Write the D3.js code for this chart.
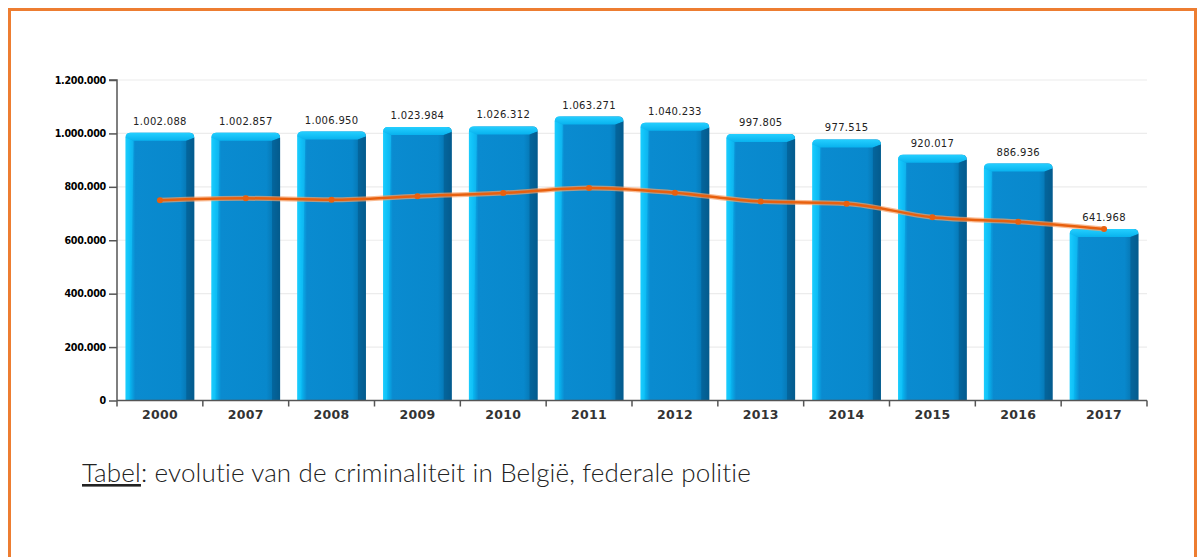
<!DOCTYPE html>
<html><head><meta charset="utf-8">
<script src="https://cdn.jsdelivr.net/npm/d3@7"></script>
<style>
html,body{margin:0;padding:0;background:#fff;}
svg{display:block;}
</style></head>
<body>
<svg id="chart" width="1198" height="557"></svg>
<script>
const years = ["2000","2007","2008","2009","2010","2011","2012","2013","2014","2015","2016","2017"];
const barValues = [1002088,1002857,1006950,1023984,1026312,1063271,1040233,997805,977515,920017,886936,641968];
const lineValues = [750000,757000,752000,765000,777000,796000,778000,745000,737000,686000,669000,642000];
const yTicks = [0,200000,400000,600000,800000,1000000,1200000];
const caption = ["Tabel", ": evolutie van de criminaliteit in België, federale politie"];

const svg = d3.select("#chart");
const fmt = v => d3.format(",")(v).replace(/,/g, ".");

// frame
svg.append("path").attr("d","M9.5,557 L9.5,9.5 L1195.5,9.5 L1195.5,557")
  .attr("fill","none").attr("stroke","#ED7D31").attr("stroke-width",3);

const x0 = 117, x1 = 1147, yBase = 400.5, yTop = 80;
const x = d3.scaleBand().domain(years).range([x0, x1]).paddingInner(0.2).paddingOuter(0.1);
const xb = d3.scaleBand().domain(years).range([x0, x1]);
const y = d3.scaleLinear().domain([0,1200000]).range([yBase, yTop]);

const defs = svg.append("defs");
const g1 = defs.append("linearGradient").attr("id","barg").attr("x1","0").attr("x2","1").attr("y1","0").attr("y2","0");
[[0,"#22d4ff"],[0.06,"#08b8f2"],[0.14,"#0a8bd0"],[0.8,"#0888cc"],[0.9,"#0677b4"],[1,"#045f92"]]
  .forEach(([o,c])=>g1.append("stop").attr("offset",o).attr("stop-color",c));
const g2 = defs.append("linearGradient").attr("id","topg").attr("x1","0").attr("x2","0").attr("y1","0").attr("y2","1");
[[0,"#24cfff"],[1,"#08b2ee"]].forEach(([o,c])=>g2.append("stop").attr("offset",o).attr("stop-color",c));

// grid
svg.append("g").selectAll("line").data(yTicks.filter(d=>d>0)).join("line")
  .attr("x1",x0).attr("x2",x1).attr("y1",d=>y(d)).attr("y2",d=>y(d))
  .attr("stroke","#ececec").attr("stroke-width",1.2);

// bars
const bars = svg.append("g").selectAll("g").data(years).join("g");
bars.append("path").attr("d",(d,i)=>{
  const bx = x(d), bw = x.bandwidth(), by = y(barValues[i]), r = 5;
  return `M${bx},${yBase} L${bx},${by+r} Q${bx},${by} ${bx+r},${by} L${bx+bw-r},${by} Q${bx+bw},${by} ${bx+bw},${by+r} L${bx+bw},${yBase} Z`;
}).attr("fill","url(#barg)");
// top bevel
bars.append("path").attr("d",(d,i)=>{
  const bx = x(d), bw = x.bandwidth(), by = y(barValues[i]), r = 5, b = 8;
  return `M${bx},${by+r} Q${bx},${by} ${bx+r},${by} L${bx+bw-r},${by} Q${bx+bw},${by} ${bx+bw},${by+r} L${bx+bw-b},${by+b} L${bx+b},${by+b} Z`;
}).attr("fill","url(#topg)");
// left bevel
bars.append("path").attr("d",(d,i)=>{
  const bx = x(d), by = y(barValues[i]), r = 5, b = 8;
  return `M${bx},${by+r} L${bx+b},${by+b} L${bx+b*0.5},${yBase} L${bx},${yBase} Z`;
}).attr("fill","#16c6fb").attr("opacity",0.55);
// right bevel
bars.append("path").attr("d",(d,i)=>{
  const bx = x(d), bw = x.bandwidth(), by = y(barValues[i]), r = 5, b = 8;
  return `M${bx+bw},${by+r} L${bx+bw-b},${by+b} L${bx+bw-b},${yBase} L${bx+bw},${yBase} Z`;
}).attr("fill","#04598a").attr("opacity",0.6);

// bar labels
svg.append("g").selectAll("text").data(years).join("text")
  .attr("x",d=>x(d)+x.bandwidth()/2).attr("y",(d,i)=>y(barValues[i])-8)
  .attr("text-anchor","middle").attr("font-family","DejaVu Sans").attr("font-size","10px")
  .attr("letter-spacing","0.3px").attr("fill","#222").text((d,i)=>fmt(barValues[i]));

// line
const line = d3.line().x((d,i)=>xb(years[i])+xb.bandwidth()/2).y(d=>y(d)).curve(d3.curveMonotoneX);
svg.append("path").datum(lineValues).attr("d",line).attr("fill","none").attr("stroke","#f7a066").attr("stroke-width",5).attr("opacity",0.7);
svg.append("path").datum(lineValues).attr("d",line).attr("fill","none").attr("stroke","#e8600e").attr("stroke-width",2.5);
svg.append("g").selectAll("circle").data(lineValues).join("circle")
  .attr("cx",(d,i)=>xb(years[i])+xb.bandwidth()/2).attr("cy",d=>y(d)).attr("r",3).attr("fill","#e8600e");

// y axis
const ya = svg.append("g").attr("transform",`translate(${x0},0)`)
  .call(d3.axisLeft(y).tickValues(yTicks).tickFormat(fmt).tickSize(8).tickPadding(3));
ya.select(".domain").attr("stroke","#555").attr("stroke-width",1.5).attr("d",`M-8,${yTop}H0V${yBase}`);
ya.selectAll(".tick line").attr("stroke","#555").attr("stroke-width",1.5);
ya.selectAll("text").attr("font-family","DejaVu Sans").attr("font-weight","bold").attr("font-size","9.6px").attr("fill","#000").attr("letter-spacing","-0.3px");

// x axis
const xa = svg.append("g").attr("transform",`translate(0,${yBase})`)
  .call(d3.axisBottom(xb).tickSize(0).tickPadding(10));
xa.select(".domain").attr("stroke","#555").attr("stroke-width",1.5).attr("d",`M${x0},0H${x1}`);
xa.selectAll("text").attr("font-family","DejaVu Sans").attr("font-weight","bold").attr("font-size","12.5px").attr("fill","#333").attr("letter-spacing","0.3px");
xa.append("g").selectAll("line").data(d3.range(years.length+1)).join("line")
  .attr("x1",i=>x0+i*xb.step()).attr("x2",i=>x0+i*xb.step()).attr("y1",0).attr("y2",6)
  .attr("stroke","#555").attr("stroke-width",1.5);

// caption
const cap = svg.append("text").attr("x",82).attr("y",482).attr("font-family","Lato").attr("font-weight",300)
  .attr("font-size","26px").attr("letter-spacing","0.15px").attr("fill","#222");
cap.append("tspan").attr("text-decoration","underline").text(caption[0]);
cap.append("tspan").text(caption[1]);
</script>
</body></html>
